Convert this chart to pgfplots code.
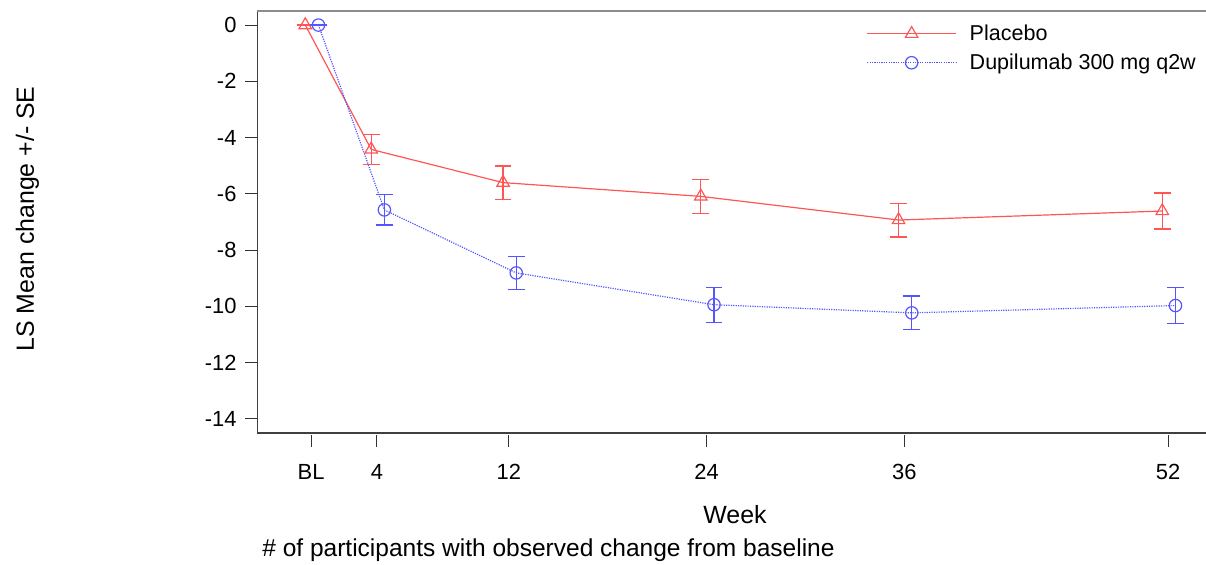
\documentclass[border=0pt]{standalone}
\usepackage{pgfplots}
\pgfplotsset{compat=1.18}
\usepackage{fontspec}
\setmainfont{Liberation Sans}
\definecolor{pred}{HTML}{FF5555}
\definecolor{pblue}{HTML}{5555FF}
\begin{document}
\begin{tikzpicture}
\useasboundingbox (-128.75bp,-66bp) rectangle (474.25bp,216.5bp);
\begin{axis}[
  scale only axis,
  width=480bp, height=211bp,
  xmin=-3.25, xmax=55,
  ymin=-14.5, ymax=0.5,
  axis x line=bottom, axis y line=left,
  axis line style={black!75, line width=0.8pt, -},
  xtick={0,4,12,24,36,52},
  xticklabels={BL,4,12,24,36,52},
  ytick={-14,-12,-10,-8,-6,-4,-2,0},
  tick align=outside,
  major tick length=6bp,
  xtick style={black!80, line width=0.5pt, yshift=-1bp},
  ytick style={black!80, line width=0.5pt},
  xticklabel style={yshift=-6bp},
  yticklabel style={xshift=-1bp},
  tick label style={font=\fontsize{11}{13}\selectfont},
  /pgf/number format/assume math mode=true,
  legend style={at={(rel axis cs:0.634,0.969)}, anchor=north west, draw=none, fill=none,
    font=\fontsize{10.8}{12.5}\selectfont, row sep=5.2bp, inner sep=0pt,
    /tikz/every even column/.append style={column sep=0bp},
    nodes={inner sep=0pt}},
  legend cell align=left,
  legend image code/.code={\draw[mark repeat=2,mark phase=2,#1] plot coordinates {(0bp,0bp) (22.25bp,0bp) (44.5bp,0bp)};},
  clip=false,
]
\addplot[pred, line width=0.6pt, mark=triangle, mark size=3.6bp, mark options={solid, line width=0.6pt},
  error bars/.cd, y dir=both, y explicit, error mark options={rotate=90, mark size=4.2bp, line width=0.6pt, pred},
  error bar style={line width=0.6pt, pred}]
  coordinates {
  (-0.35,0) +- (0,0)
  (3.65,-4.42) +- (0,0.53)
  (11.65,-5.60) +- (0,0.59)
  (23.65,-6.09) +- (0,0.60)
  (35.65,-6.93) +- (0,0.60)
  (51.65,-6.61) +- (0,0.64)
  };
\addlegendentry{\hspace{6.5bp}Placebo}
\addplot[pblue, line width=0.6pt, dash pattern=on 0.6pt off 0.6pt, mark=o, mark size=3.1bp, mark options={solid, line width=0.6pt},
  error bars/.cd, y dir=both, y explicit, error mark options={rotate=90, mark size=4.2bp, line width=0.6pt, pblue, solid},
  error bar style={line width=0.6pt, pblue, solid}]
  coordinates {
  (0.45,0) +- (0,0)
  (4.45,-6.57) +- (0,0.54)
  (12.45,-8.81) +- (0,0.58)
  (24.45,-9.94) +- (0,0.62)
  (36.45,-10.23) +- (0,0.60)
  (52.45,-9.97) +- (0,0.64)
  };
\addlegendentry{\hspace{6.5bp}Dupilumab 300 mg q2w}
\draw[black!45, line width=0.8pt] (rel axis cs:0,1) -- (rel axis cs:1,1);
\end{axis}
\node[rotate=90, font=\fontsize{12.5}{14}\selectfont] at (-115bp,107bp) {LS Mean change +/- SE};
\node[font=\fontsize{12.5}{15}\selectfont] at (238.75bp,-41bp) {Week};
\node[anchor=west, inner sep=0pt, font=\fontsize{12.3}{14}\selectfont] at (2.25bp,-58.5bp) {\# of participants with observed change from baseline};
\end{tikzpicture}
\end{document}
